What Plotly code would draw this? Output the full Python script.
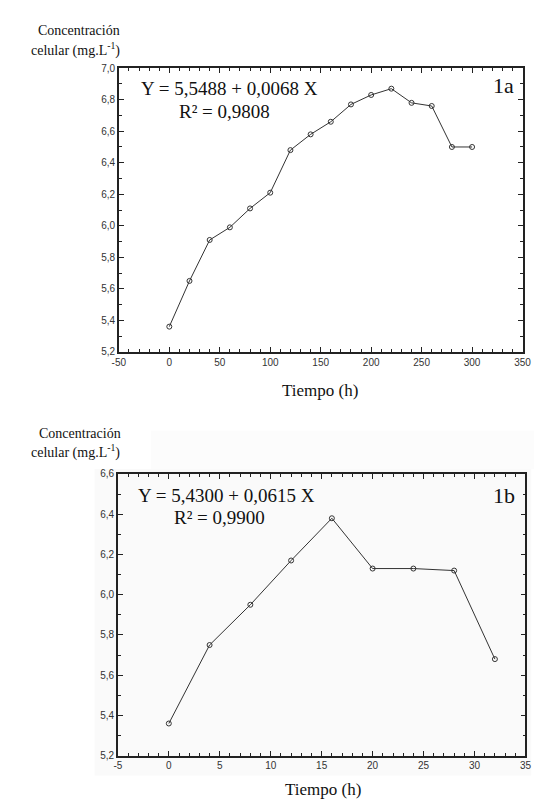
import plotly.graph_objects as go

# Panel 1a data
time_a = [0, 20, 40, 60, 80, 100, 120, 140, 160, 180, 200, 220, 240, 260, 280, 300]
conc_a = [5.36, 5.65, 5.91, 5.99, 6.11, 6.21, 6.48, 6.58, 6.66, 6.77, 6.83, 6.87, 6.78, 6.76, 6.50, 6.50]

# Panel 1b data
time_b = [0, 4, 8, 12, 16, 20, 24, 28, 32]
conc_b = [5.36, 5.75, 5.95, 6.17, 6.38, 6.13, 6.13, 6.12, 5.68]

# tick labels
xticks_a = [-50, 0, 50, 100, 150, 200, 250, 300, 350]
xticks_b = [-5, 0, 5, 10, 15, 20, 25, 30, 35]

W, H = 542, 799

def px(x):
    return x / W

def py(y):
    return 1 - y / H

fig = go.Figure()

marker = dict(symbol="circle-open", size=5, color="#333333", line=dict(width=1, color="#333333"))
line = dict(color="#333333", width=1)

fig.add_trace(go.Scatter(x=time_a, y=conc_a, mode="lines+markers", marker=marker, line=line,
                         xaxis="x", yaxis="y", showlegend=False))
fig.add_trace(go.Scatter(x=time_b, y=conc_b, mode="lines+markers", marker=marker, line=line,
                         xaxis="x2", yaxis="y2", showlegend=False))

tickfont = dict(family="Liberation Sans, Arial", size=10, color="#333333")
axis_common = dict(showline=True, linecolor="#222222", linewidth=1.5, mirror="allticks",
                   ticks="inside", ticklen=5, tickwidth=1, tickcolor="#222222",
                   showgrid=False, zeroline=False, tickfont=tickfont)

fig.update_layout(
    width=W, height=H,
    margin=dict(l=0, r=0, t=0, b=0),
    paper_bgcolor="white", plot_bgcolor="rgba(0,0,0,0)",
    separators=",.",
    xaxis=dict(domain=[px(107), px(523)], range=[-50, 350], anchor="y",
               tickvals=xticks_a, ticktext=[str(v) for v in xticks_a],
               minor=dict(ticks="inside", dtick=10, ticklen=3, tickcolor="#222222"), **axis_common),
    yaxis=dict(domain=[py(343), py(55)], range=[5.2, 7.0], dtick=0.2, tickformat=".1f", anchor="x",
               minor=dict(ticks="inside", dtick=0.1, ticklen=3, tickcolor="#222222"), **axis_common),
    xaxis2=dict(domain=[px(106), px(526)], range=[-5, 35], anchor="y2",
                tickvals=xticks_b, ticktext=[str(v) for v in xticks_b],
                minor=dict(ticks="inside", dtick=1, ticklen=3, tickcolor="#222222"), **axis_common),
    yaxis2=dict(domain=[py(753), py(467)], range=[5.2, 6.6], dtick=0.2, tickformat=".1f", anchor="x2",
                minor=dict(ticks="inside", dtick=0.1, ticklen=3, tickcolor="#222222"), **axis_common),
)

# very faint background behind lower panel
fig.add_shape(type="rect", xref="paper", yref="paper", x0=px(82), x1=px(532), y0=py(773), y1=py(462),
              fillcolor="#fafafa", line=dict(width=0), layer="below")
fig.add_shape(type="rect", xref="paper", yref="paper", x0=px(140), x1=1, y0=py(462), y1=py(423),
              fillcolor="#fcfcfc", line=dict(width=0), layer="below")

serif = "Liberation Serif, Times New Roman, serif"

def ann(text, x, y, size, xanchor="center"):
    fig.add_annotation(text=text, xref="paper", yref="paper", x=px(x), y=py(y),
                       xanchor=xanchor, yanchor="middle", showarrow=False,
                       font=dict(family=serif, size=size, color="#111111"))

# top panel texts
ann("Concentración", 66, 17, 14)
ann("celular (mg.L<sup>-1</sup>)", 62, 36, 14)
ann("Y = 5,5488 + 0,0068 X", 128, 76, 19, xanchor="left")
ann("R² = 0,9808", 216, 99, 19)
ann("1a", 503, 73, 22)
ann("Tiempo (h)", 314, 382, 17)

# bottom panel texts
ann("Concentración", 67, 426, 14)
ann("celular (mg.L<sup>-1</sup>)", 62, 444, 14)
ann("Y = 5,4300 + 0,0615 X", 125, 489, 19, xanchor="left")
ann("R² = 0,9900", 211, 511, 19)
ann("1b", 504, 489, 22)
ann("Tiempo (h)", 317, 787, 17)

fig.write_html("out.html")
